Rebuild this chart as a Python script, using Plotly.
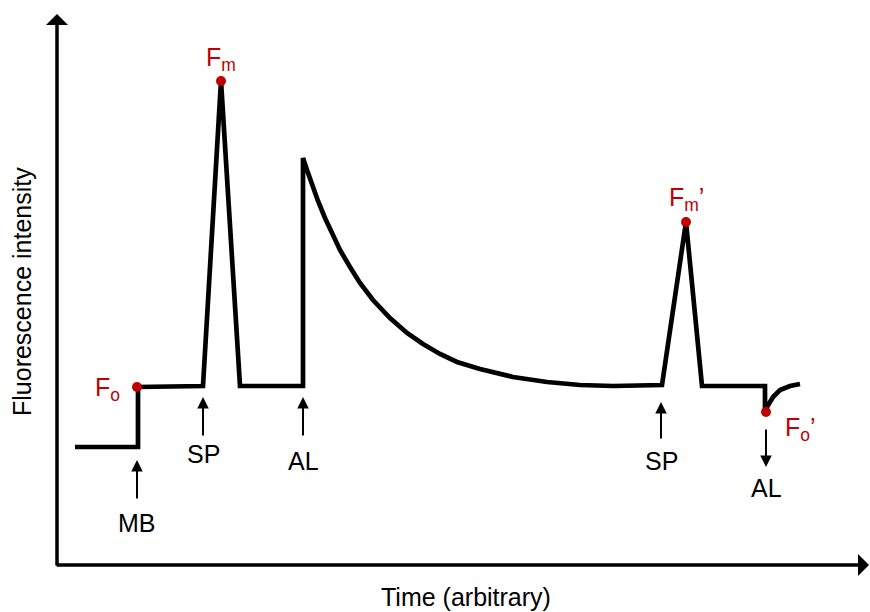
import plotly.graph_objects as go

# Trace of fluorescence (arbitrary time units, arbitrary intensity units)
time_vals = [1.8, 8.1, 8.1, 14.6, 16.4, 18.3, 24.6, 24.6,
             25.0, 25.5, 26.1, 26.8, 27.5, 28.3, 29.3, 30.3, 31.6, 33.3, 35.0,
             36.6, 38.3, 40.0, 42.3, 45.6, 49.0, 52.3, 55.6, 60.5,
             62.9, 64.5, 70.8, 70.8,
             71.0, 71.6, 72.3, 73.3, 74.3]
fluor_vals = [11.8, 11.8, 17.8, 17.9, 48.4, 17.9, 17.9, 40.7,
              39.5, 38.0, 36.4, 34.7, 33.2, 31.5, 29.8, 28.2, 26.5, 24.7, 23.2,
              22.1, 21.1, 20.3, 19.6, 18.8, 18.3, 18.0, 17.9, 18.0,
              34.3, 17.9, 17.9, 15.3,
              15.8, 16.8, 17.5, 17.9, 18.1]

# Marked points
point_names = ["F<sub>o</sub>", "F<sub>m</sub>", "F<sub>m</sub>’", "F<sub>o</sub>’"]
point_t = [8.0, 16.4, 62.9, 70.9]
point_f = [17.8, 48.4, 34.3, 15.3]
label_t = [5.0, 16.4, 62.9, 74.3]
label_f = [17.6, 50.6, 36.6, 13.6]

# Event arrows (tip / tail) and labels
event_names = ["MB", "SP", "AL", "SP", "AL"]
event_t = [8.0, 14.6, 24.6, 60.4, 70.9]
event_tip = [10.5, 16.8, 16.8, 16.3, 9.8]
event_tail = [6.5, 12.8, 12.8, 12.5, 13.7]
event_label_f = [4.2, 11.1, 10.4, 10.4, 7.7]

RED = "#C00000"
FONT = "Arial, Liberation Sans, sans-serif"
FS = 25

fig = go.Figure()
fig.add_trace(go.Scatter(x=time_vals, y=fluor_vals, mode="lines",
                         line=dict(color="black", width=4.7),
                         hoverinfo="skip", showlegend=False))
fig.add_trace(go.Scatter(x=point_t, y=point_f, mode="markers",
                         marker=dict(color=RED, size=10),
                         hoverinfo="skip", showlegend=False))

ann = []
for name, t, f in zip(point_names, label_t, label_f):
    ann.append(dict(x=t, y=f, xref="x", yref="y", text=name, showarrow=False,
                    font=dict(color=RED, size=FS, family=FONT)))
for name, t, tip, tail, lf in zip(event_names, event_t, event_tip, event_tail, event_label_f):
    ann.append(dict(x=t, y=tip, ax=t, ay=tail, xref="x", yref="y", axref="x", ayref="y",
                    text="", showarrow=True, arrowhead=2, arrowsize=1.15, arrowwidth=2,
                    arrowcolor="black"))
    ann.append(dict(x=t, y=lf, xref="x", yref="y", text=name, showarrow=False,
                    font=dict(color="black", size=FS, family=FONT)))

# axes drawn as arrows
ann.append(dict(x=0, y=55.1, ax=0, ay=-0.2, xref="x", yref="y", axref="x", ayref="y",
                text="", showarrow=True, arrowhead=1, arrowsize=1.05, arrowwidth=3.5,
                arrowcolor="black"))
ann.append(dict(x=882 / 870, y=0, xref="paper", yref="y", ax=-827, ay=0,
                text="", showarrow=True, arrowhead=1, arrowsize=1.05, arrowwidth=3.5,
                arrowcolor="black"))
# axis titles
ann.append(dict(x=-3.5, y=27.3, xref="x", yref="y", text="Fluorescence intensity",
                textangle=-90, showarrow=False, font=dict(color="black", size=FS, family=FONT)))
ann.append(dict(x=40.9, y=-3.2, xref="x", yref="y", text="Time (arbitrary)",
                showarrow=False, font=dict(color="black", size=FS, family=FONT)))

fig.update_layout(
    width=870, height=612,
    margin=dict(l=0, r=0, t=0, b=0),
    paper_bgcolor="white", plot_bgcolor="white",
    xaxis=dict(range=[-5.7, 81.3], visible=False, fixedrange=True),
    yaxis=dict(range=[-4.7, 56.5], visible=False, fixedrange=True),
    annotations=ann,
    showlegend=False,
)
fig.write_html("out.html")
